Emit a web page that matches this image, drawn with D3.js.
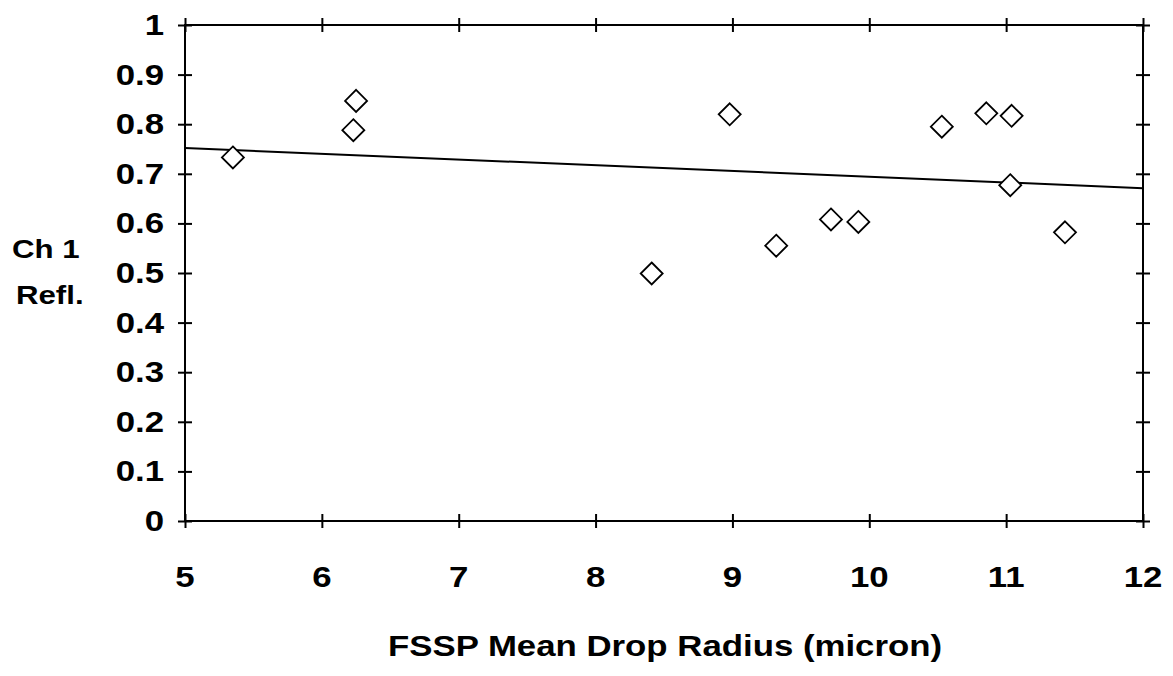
<!DOCTYPE html>
<html>
<head>
<meta charset="utf-8">
<script src="https://cdn.jsdelivr.net/npm/d3@7"></script>
<style>
  body { margin: 0; background: #fff; }
  text { font-family: "Liberation Sans", Arial, sans-serif; font-weight: bold; fill: #000; }
</style>
</head>
<body>
<div id="plot"></div>
<script>
// drop radius (micron) vs channel 1 reflectance
const radius = [5.35, 6.25, 6.23, 8.41, 8.98, 9.32, 9.72, 9.92, 10.53, 10.855, 11.04, 11.03, 11.43];
const refl   = [0.733, 0.847, 0.788, 0.499, 0.82, 0.555, 0.608, 0.603, 0.795, 0.822, 0.817, 0.677, 0.582];

// fitted line end points
const fitX = [5, 12];
const fitY = [0.752, 0.671];

const xTicks = [5, 6, 7, 8, 9, 10, 11, 12];
const yTicks = [0, 0.1, 0.2, 0.3, 0.4, 0.5, 0.6, 0.7, 0.8, 0.9, 1];

const W = 1173, H = 676;
const plotL = 185, plotR = 1143, plotT = 25, plotB = 521;
const stretch = 1.2;

const svg = d3.select("#plot")
  .append("svg")
  .attr("width", W)
  .attr("height", H);

const xScale = d3.scaleLinear().domain([5, 12]).range([plotL, plotR]);
const yScale = d3.scaleLinear().domain([0, 1]).range([plotB, plotT]);

function label(x, y, txt, size, anchor) {
  svg.append("text")
    .attr("transform", `translate(${x},${y}) scale(${stretch},1)`)
    .attr("text-anchor", anchor)
    .style("font-size", size + "px")
    .text(txt);
}

// frame
svg.append("rect")
  .attr("x", plotL).attr("y", plotT)
  .attr("width", plotR - plotL).attr("height", plotB - plotT)
  .attr("fill", "none")
  .attr("stroke", "#000")
  .attr("stroke-width", 2);

// cross ticks on all four sides
function crossTicks(axisFn, scale, ticks, transform) {
  [7, -7].forEach(s => {
    const g = svg.append("g")
      .attr("transform", transform)
      .call(axisFn(scale).tickValues(ticks).tickSize(s).tickFormat(""));
    g.select(".domain").remove();
    g.selectAll("line").attr("stroke", "#000").attr("stroke-width", 2);
  });
}
crossTicks(d3.axisBottom, xScale, xTicks, `translate(0,${plotB})`);
crossTicks(d3.axisTop, xScale, xTicks, `translate(0,${plotT})`);
crossTicks(d3.axisLeft, yScale, yTicks, `translate(${plotL},0)`);
crossTicks(d3.axisRight, yScale, yTicks, `translate(${plotR},0)`);

// tick labels
xTicks.forEach(t => label(xScale(t), 587, d3.format("d")(t), 29, "middle"));
yTicks.forEach(t => label(164, yScale(t) + 10, t === 0 || t === 1 ? String(t) : d3.format(".1f")(t), 29, "end"));

// axis titles
label((plotL + plotR) / 2 + 1, 656, "FSSP Mean Drop Radius (micron)", 29, "middle");
label(12, 258, "Ch 1", 26, "start");
label(16, 304, "Refl.", 26, "start");

// fit line
const line = d3.line()
  .x(d => xScale(d[0]))
  .y(d => yScale(d[1]));

svg.append("path")
  .datum(d3.zip(fitX, fitY))
  .attr("d", line)
  .attr("fill", "none")
  .attr("stroke", "#000")
  .attr("stroke-width", 2);

// diamond markers
const r = 11;
svg.selectAll(".pt")
  .data(d3.zip(radius, refl))
  .enter()
  .append("path")
  .attr("class", "pt")
  .attr("transform", d => `translate(${xScale(d[0])},${yScale(d[1])})`)
  .attr("d", `M0,${-r}L${r},0L0,${r}L${-r},0Z`)
  .attr("fill", "#fff")
  .attr("stroke", "#000")
  .attr("stroke-width", 1.8);
</script>
</body>
</html>
